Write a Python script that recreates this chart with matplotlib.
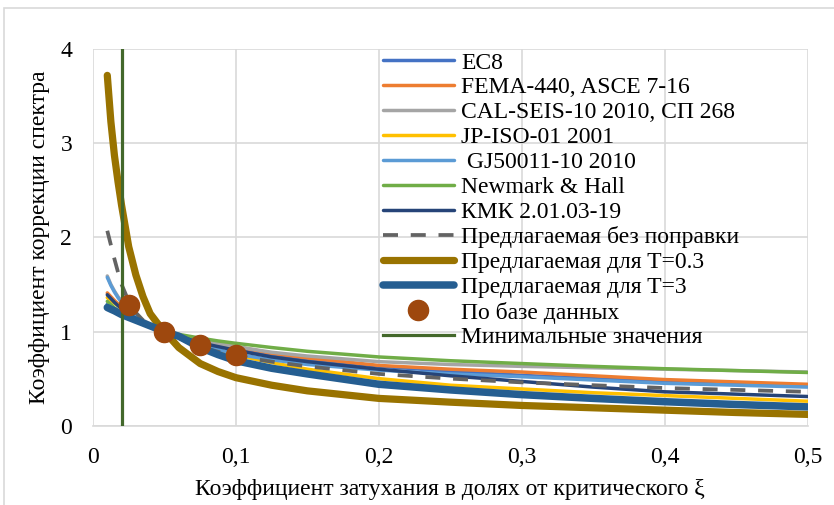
import numpy as np
import matplotlib
matplotlib.use('Agg')
import matplotlib.pyplot as plt
from matplotlib.patches import Rectangle

plt.rcParams['font.family'] = ['Liberation Serif', 'DejaVu Serif']
plt.rcParams['font.size'] = 17

# damping ratio (fraction of critical)
xi = [0.01, 0.0125, 0.015, 0.0175, 0.02, 0.025, 0.03, 0.035, 0.04, 0.045,
      0.05, 0.06, 0.075, 0.0875, 0.1, 0.125, 0.15, 0.2, 0.25, 0.3, 0.35, 0.4, 0.45, 0.5]

ec8 = [1.29, 1.265, 1.24, 1.217, 1.195, 1.155, 1.12, 1.085, 1.054, 1.026,
       1.0, 0.953, 0.894, 0.853, 0.816, 0.756, 0.707, 0.632, 0.577, 0.535, 0.50, 0.471, 0.447, 0.426]
fema = [1.41, 1.37, 1.33, 1.295, 1.26, 1.20, 1.15, 1.11, 1.07, 1.035,
        1.0, 0.96, 0.90, 0.87, 0.84, 0.77, 0.72, 0.64, 0.60, 0.57, 0.53, 0.49, 0.465, 0.44]
calseis = [1.59, 1.50, 1.43, 1.37, 1.32, 1.23, 1.17, 1.12, 1.08, 1.04,
           1.0, 0.96, 0.90, 0.87, 0.84, 0.78, 0.74, 0.68, 0.65, 0.63, 0.615, 0.60, 0.585, 0.57]
jp_iso = [1.36, 1.33, 1.30, 1.275, 1.25, 1.20, 1.15, 1.11, 1.07, 1.035,
          1.0, 0.94, 0.86, 0.80, 0.75, 0.67, 0.60, 0.50, 0.43, 0.39, 0.35, 0.32, 0.29, 0.26]
gj = [1.575, 1.49, 1.42, 1.36, 1.31, 1.22, 1.16, 1.11, 1.07, 1.035,
      1.0, 0.95, 0.87, 0.81, 0.76, 0.70, 0.65, 0.59, 0.55, 0.52, 0.485, 0.45, 0.43, 0.41]
newmark = [1.32, 1.285, 1.25, 1.225, 1.20, 1.15, 1.11, 1.08, 1.05, 1.025,
           1.0, 0.97, 0.93, 0.90, 0.875, 0.83, 0.79, 0.73, 0.69, 0.66, 0.63, 0.605, 0.585, 0.565]
kmk = [1.39, 1.35, 1.31, 1.275, 1.24, 1.18, 1.14, 1.10, 1.06, 1.03,
       1.0, 0.95, 0.88, 0.84, 0.80, 0.73, 0.68, 0.60, 0.53, 0.47, 0.41, 0.36, 0.335, 0.31]
prop_raw = [2.07, 1.92, 1.77, 1.63, 1.50, 1.32, 1.20, 1.12, 1.07, 1.03,
            1.0, 0.93, 0.84, 0.785, 0.74, 0.68, 0.63, 0.55, 0.50, 0.46, 0.43, 0.40, 0.38, 0.36]
prop_t03 = [3.72, 3.23, 2.87, 2.59, 2.34, 1.90, 1.60, 1.37, 1.19, 1.09,
            1.0, 0.83, 0.66, 0.575, 0.51, 0.43, 0.37, 0.29, 0.25, 0.215, 0.19, 0.165, 0.14, 0.12]
prop_t3 = [1.255, 1.237, 1.22, 1.20, 1.18, 1.15, 1.12, 1.09, 1.06, 1.03,
           1.0, 0.95, 0.83, 0.755, 0.69, 0.61, 0.55, 0.44, 0.38, 0.33, 0.29, 0.255, 0.225, 0.20]

db_x = [0.025, 0.05, 0.075, 0.1]
db_y = [1.28, 1.0, 0.855, 0.75]

min_x = [0.02, 0.02]
min_y = [0, 4]

x_ticks = [0, 0.1, 0.2, 0.3, 0.4, 0.5]
x_labels = ['0', '0,1', '0,2', '0,3', '0,4', '0,5']
y_ticks = [0, 1, 2, 3, 4]

fig = plt.figure(figsize=(8.34, 5.05), dpi=100)
ax = fig.add_axes([93 / 834, 1 - 425.7 / 505, 714.5 / 834, 376.7 / 505])

# chart border
fig.patches.append(Rectangle((4 / 834, -0.01), 1.0, (505 - 8) / 505 + 0.01,
                             transform=fig.transFigure, fill=False,
                             ec='#D9D9D9', lw=1.2))

wdt = 2.5
ax.plot(xi, ec8, color='#4472C4', lw=wdt, label='EC8', solid_capstyle='round')
ax.plot(xi, fema, color='#ED7D31', lw=wdt, label='FEMA-440, ASCE 7-16', solid_capstyle='round')
ax.plot(xi, calseis, color='#A5A5A5', lw=wdt, label='CAL-SEIS-10 2010, СП 268', solid_capstyle='round')
ax.plot(xi, jp_iso, color='#FFC000', lw=wdt, label='JP-ISO-01 2001', solid_capstyle='round')
ax.plot(xi, gj, color='#5B9BD5', lw=wdt, label=' GJ50011-10 2010', solid_capstyle='round')
ax.plot(xi, newmark, color='#70AD47', lw=wdt, label='Newmark & Hall', solid_capstyle='round')
ax.plot(xi, kmk, color='#264478', lw=wdt, label='КМК 2.01.03-19', solid_capstyle='round')
ax.plot(xi, prop_raw, color='#636363', lw=2.7, ls=(0, (4, 3.4)), label='Предлагаемая без поправки')
ax.plot(xi, prop_t03, color='#997300', lw=5.2, label='Предлагаемая для T=0.3', solid_capstyle='round')
ax.plot(xi, prop_t3, color='#255E91', lw=5.4, label='Предлагаемая для T=3', solid_capstyle='round')
ax.plot(min_x, min_y, color='#43682B', lw=2.3, label='Минимальные значения', zorder=3)
ax.plot(db_x, db_y, 'o', color='#9E480E', ms=14.5, label='По базе данных', zorder=4)

ax.set_xlim(0, 0.5)
ax.set_ylim(0, 4)
ax.set_xticks(x_ticks, x_labels)
ax.set_yticks(y_ticks)
ax.tick_params(length=0, pad=15, labelsize=17)
ax.grid(True, color='#D9D9D9', lw=1.2)
ax.set_axisbelow(True)
for s in ['top', 'right', 'left']:
    ax.spines[s].set_visible(False)
ax.spines['bottom'].set_color('#D9D9D9')
ax.spines['bottom'].set_linewidth(1.2)

h, l = ax.get_legend_handles_labels()
order = [0, 1, 2, 3, 4, 5, 6, 7, 8, 9, 11, 10]
ax.legend([h[i] for i in order], [l[i] for i in order], loc='upper left',
          bbox_to_anchor=(383 / 834, 1 - 52 / 505), bbox_transform=fig.transFigure,
          frameon=False, borderpad=0, borderaxespad=0, labelspacing=0.143,
          handlelength=3.0, handletextpad=0.3, numpoints=1, fontsize=17)

fig.text(450 / 834, 1 - 489 / 505, 'Коэффициент затухания в долях от критического ξ',
         ha='center', va='center', fontsize=17)
fig.text(40 / 834, 1 - 237 / 505, 'Коэффициент коррекции спектра',
         ha='center', va='center', rotation=90, fontsize=17)

fig.savefig('out.png', dpi=100)
